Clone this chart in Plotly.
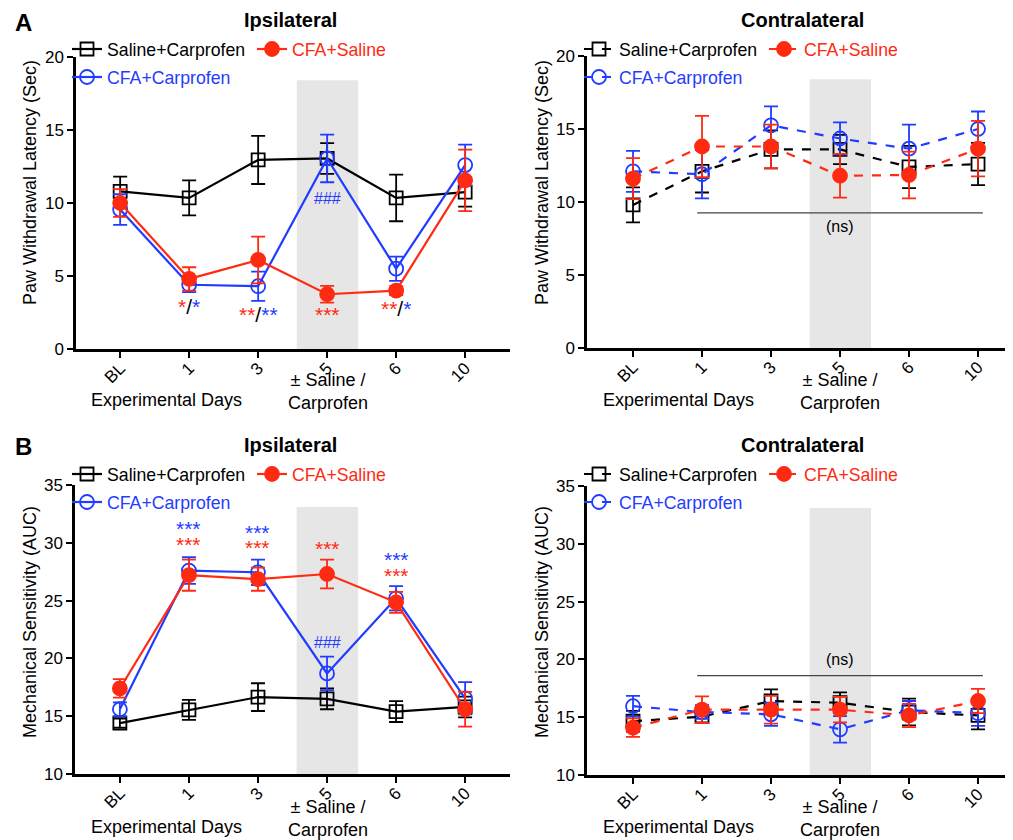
import plotly.graph_objects as go

# The page adds an 8px body margin; the figure is sized so it fits the 1013x840 window.
OFF = 8
W, H = 1013, 840
PW, PH = W - OFF, H - OFF
FONT = "Liberation Sans, Arial, sans-serif"
BLACK = "#000000"
RED = "#ff2a12"
BLUE = "#1f3cff"
BAND = "#e6e6e6"

days = ["BL", "1", "3", "5", "6", "10"]
series_names = ["Saline+Carprofen", "CFA+Saline", "CFA+Carprofen"]

# ---- Panel A, ipsilateral: paw withdrawal latency (s), mean and SEM ----
a_ipsi_sal_carp = [10.8, 10.35, 12.95, 13.05, 10.35, 10.75]
a_ipsi_sal_carp_err = [1.0, 1.2, 1.65, 1.05, 1.6, 1.0]
a_ipsi_cfa_sal = [10.0, 4.8, 6.1, 3.75, 4.0, 11.55]
a_ipsi_cfa_sal_err = [0.95, 0.8, 1.6, 0.57, 0.3, 2.1]
a_ipsi_cfa_carp = [9.55, 4.4, 4.3, 13.05, 5.5, 12.6]
a_ipsi_cfa_carp_err = [1.05, 0.5, 1.0, 1.63, 0.83, 1.4]

# ---- Panel A, contralateral ----
a_contra_sal_carp = [9.8, 12.1, 13.6, 13.6, 12.4, 12.6]
a_contra_sal_carp_err = [1.2, 1.45, 1.3, 1.0, 1.45, 1.45]
a_contra_cfa_sal = [11.6, 13.8, 13.8, 11.8, 11.85, 13.65]
a_contra_cfa_sal_err = [1.4, 2.1, 1.5, 1.5, 1.6, 1.9]
a_contra_cfa_carp = [12.1, 11.9, 15.25, 14.35, 13.65, 15.0]
a_contra_cfa_carp_err = [1.4, 1.65, 1.3, 1.1, 1.65, 1.2]

# ---- Panel B, ipsilateral: mechanical sensitivity (AUC) ----
b_ipsi_sal_carp = [14.4, 15.55, 16.65, 16.5, 15.4, 15.8]
b_ipsi_sal_carp_err = [0.4, 0.87, 1.2, 0.9, 0.9, 0.9]
b_ipsi_cfa_sal = [17.4, 27.2, 26.85, 27.3, 24.85, 15.6]
b_ipsi_cfa_sal_err = [0.8, 1.35, 1.0, 1.25, 0.9, 1.5]
b_ipsi_cfa_carp = [15.6, 27.6, 27.45, 18.7, 25.2, 16.55]
b_ipsi_cfa_carp_err = [0.6, 1.15, 1.1, 1.45, 1.05, 1.4]

# ---- Panel B, contralateral ----
b_contra_sal_carp = [14.65, 15.05, 16.4, 16.25, 15.45, 15.15]
b_contra_sal_carp_err = [0.9, 0.5, 1.0, 0.9, 1.15, 1.2]
b_contra_cfa_sal = [14.1, 15.65, 15.65, 15.65, 15.15, 16.4]
b_contra_cfa_sal_err = [0.8, 1.15, 1.2, 1.1, 1.0, 1.05]
b_contra_cfa_carp = [15.95, 15.45, 15.25, 13.95, 15.6, 15.35]
b_contra_cfa_carp_err = [0.9, 0.6, 1.0, 1.15, 0.8, 1.1]

# significance labels
sig_a_ipsi = [("1", 2.88, "*", "*"), ("3", 2.33, "**", "**"),
              ("5", 2.33, "***", ""), ("6", 2.8, "**", "*")]
sig_a_ipsi_hash = [("5", 10.3)]
sig_b_ipsi_red = [("1", 29.87), ("3", 29.6), ("5", 29.5), ("6", 27.2)]
sig_b_ipsi_blue = [("1", 31.2), ("3", 30.9), ("6", 28.57)]
sig_b_ipsi_hash = [("5", 21.4)]


def fx(p):
    return (p - OFF) / PW


def fy(p):
    return 1 - (p - OFF) / PH


def di(day):
    return days.index(day)


panels = [
    dict(ax="", xd=(76, 510), yd=(349, 57), xr=[-0.64, 5.65], yr=[0, 20], yt=[0, 5, 10, 15, 20],
         data=[(a_ipsi_sal_carp, a_ipsi_sal_carp_err), (a_ipsi_cfa_sal, a_ipsi_cfa_sal_err),
               (a_ipsi_cfa_carp, a_ipsi_cfa_carp_err)],
         dash="solid", ox=0, oy=0, cy=0, title="Ipsilateral", ytitle="Paw Withdrawal Latency (Sec)"),
    dict(ax="2", xd=(587, 1013), yd=(348, 56), xr=[-0.667, 5.507], yr=[0, 20], yt=[0, 5, 10, 15, 20],
         data=[(a_contra_sal_carp, a_contra_sal_carp_err), (a_contra_cfa_sal, a_contra_cfa_sal_err),
               (a_contra_cfa_carp, a_contra_cfa_carp_err)],
         dash="dash", ox=512, oy=0, cy=0, title="Contralateral", ytitle="Paw Withdrawal Latency (Sec)"),
    dict(ax="3", xd=(75, 510), yd=(774, 485), xr=[-0.65, 5.65], yr=[10, 35], yt=[10, 15, 20, 25, 30, 35],
         data=[(b_ipsi_sal_carp, b_ipsi_sal_carp_err), (b_ipsi_cfa_sal, b_ipsi_cfa_sal_err),
               (b_ipsi_cfa_carp, b_ipsi_cfa_carp_err)],
         dash="solid", ox=0, oy=425, cy=427, title="Ipsilateral", ytitle="Mechanical Sensitivity (AUC)"),
    dict(ax="4", xd=(587, 1013), yd=(775, 486), xr=[-0.667, 5.507], yr=[10, 35], yt=[10, 15, 20, 25, 30, 35],
         data=[(b_contra_sal_carp, b_contra_sal_carp_err), (b_contra_cfa_sal, b_contra_cfa_sal_err),
               (b_contra_cfa_carp, b_contra_cfa_carp_err)],
         dash="dash", ox=512, oy=425, cy=427, title="Contralateral", ytitle="Mechanical Sensitivity (AUC)"),
]

styles = [
    dict(color=BLACK, symbol="square-open", size=13),
    dict(color=RED, symbol="circle", size=14),
    dict(color=BLUE, symbol="circle-open", size=14),
]
legend_pos = [(87, 45), (272, 45), (87, 73)]
draw_order = [0, 2, 1]

fig = go.Figure()
layout = dict(
    width=PW, height=PH, autosize=False,
    margin=dict(l=0, r=0, t=0, b=0, pad=0, autoexpand=False),
    paper_bgcolor="white", plot_bgcolor="rgba(0,0,0,0)",
    font=dict(family=FONT, size=17, color="black"),
    showlegend=True,
)
shapes = []
annotations = []
leg_n = 0

for p in panels:
    xa = "x" + p["ax"]
    ya = "y" + p["ax"]
    layout["xaxis" + p["ax"]] = dict(
        domain=[fx(p["xd"][0]), min(1.0, fx(p["xd"][1]))], anchor=ya, type="category",
        categoryorder="array", categoryarray=days, range=p["xr"],
        showline=True, linecolor="black", linewidth=2.5, ticks="outside", ticklen=6,
        tickwidth=2, tickcolor="black", tickangle=-45, tickfont=dict(size=17),
        ticklabelstandoff=-6,
        showgrid=False, zeroline=False, automargin=False,
    )
    layout["yaxis" + p["ax"]] = dict(
        domain=[fy(p["yd"][0]), fy(p["yd"][1])], anchor=xa, range=p["yr"],
        tickvals=p["yt"], showline=True, linecolor="black", linewidth=2.5,
        ticks="outside", ticklen=6, tickwidth=2, tickcolor="black",
        tickfont=dict(size=17), showgrid=False, zeroline=False, automargin=False,
    )
    top_band = p["yr"][0] + (p["yr"][1] - p["yr"][0]) * (0.92 if p["yr"][0] == 0 else 0.924)
    shapes.append(dict(type="rect", xref=xa, yref=ya, x0=2.56, x1=3.45, y0=p["yr"][0], y1=top_band,
                       fillcolor=BAND, line=dict(width=0), layer="below"))

    for i in draw_order:
        vals, errs = p["data"][i]
        st = styles[i]
        leg_n += 1
        lname = "legend" if leg_n == 1 else "legend%d" % leg_n
        fig.add_trace(go.Scatter(
            x=days, y=vals, xaxis=xa, yaxis=ya, name=series_names[i], legend=lname,
            mode="lines+markers", cliponaxis=False,
            line=dict(color=st["color"], width=2.2, dash=p["dash"]),
            marker=dict(symbol=st["symbol"], size=st["size"], color=st["color"],
                        line=dict(color=st["color"], width=1.8)),
            error_y=dict(type="data", array=errs, color=st["color"], thickness=1.8, width=7),
        ))
        lx, ly = legend_pos[i]
        layout[lname] = dict(
            x=fx(lx + p["ox"] - 20), y=fy(ly + p["oy"] - 14), xanchor="left", yanchor="top",
            bgcolor="rgba(0,0,0,0)", borderwidth=0,
            font=dict(size=17.7, color=st["color"], family=FONT),
        )

    annotations.append(dict(text="<b>%s</b>" % p["title"], xref="paper", yref="paper",
                            x=fx(290 + p["ox"]), y=fy(20 + p["oy"]), showarrow=False,
                            font=dict(size=20), xanchor="center", yanchor="middle"))
    annotations.append(dict(text=p["ytitle"], xref="paper", yref="paper",
                            x=fx(30 + p["ox"]), y=fy((183 if p["oy"] == 0 else 197) + p["oy"]),
                            showarrow=False, textangle=-90, font=dict(size=18),
                            xanchor="center", yanchor="middle"))
    annotations.append(dict(text="Experimental Days", xref="paper", yref="paper",
                            x=fx(166 + p["ox"]), y=fy(400 + p["cy"]), showarrow=False,
                            font=dict(size=18), xanchor="center", yanchor="middle"))
    annotations.append(dict(text="± Saline /<br>Carprofen", xref="paper", yref="paper",
                            x=fx(328 + p["ox"]), y=fy(391 + p["cy"]), showarrow=False,
                            font=dict(size=18), xanchor="center", yanchor="middle"))

for letter, yy in [("A", 22), ("B", 446)]:
    annotations.append(dict(text="<b>%s</b>" % letter, xref="paper", yref="paper",
                            x=fx(24), y=fy(yy), showarrow=False, font=dict(size=24),
                            xanchor="center", yanchor="middle"))

for day, yv, rs, bs in sig_a_ipsi:
    if bs:
        txt = '<span style="color:%s">%s</span>/<span style="color:%s">%s</span>' % (RED, rs, BLUE, bs)
    else:
        txt = '<span style="color:%s">%s</span>' % (RED, rs)
    annotations.append(dict(text=txt, xref="x", yref="y", x=di(day), y=yv, showarrow=False,
                            font=dict(size=21), xanchor="center", yanchor="middle"))
for day, yv in sig_a_ipsi_hash:
    annotations.append(dict(text="###", xref="x", yref="y", x=di(day), y=yv, showarrow=False,
                            font=dict(size=16, color=BLUE), xanchor="center", yanchor="middle"))

for day, yv in sig_b_ipsi_red:
    annotations.append(dict(text="***", xref="x3", yref="y3", x=di(day), y=yv, showarrow=False,
                            font=dict(size=21, color=RED), xanchor="center", yanchor="middle"))
for day, yv in sig_b_ipsi_blue:
    annotations.append(dict(text="***", xref="x3", yref="y3", x=di(day), y=yv, showarrow=False,
                            font=dict(size=21, color=BLUE), xanchor="center", yanchor="middle"))
for day, yv in sig_b_ipsi_hash:
    annotations.append(dict(text="###", xref="x3", yref="y3", x=di(day), y=yv, showarrow=False,
                            font=dict(size=16, color=BLUE), xanchor="center", yanchor="middle"))

for xa, ya, ly, ty in [("x2", "y2", 9.25, 8.3), ("x4", "y4", 18.6, 20.0)]:
    shapes.append(dict(type="line", xref=xa, yref=ya, x0=0.93, x1=5.07, y0=ly, y1=ly,
                       line=dict(color="#444444", width=1.3)))
    annotations.append(dict(text="(ns)", xref=xa, yref=ya, x=di("5"), y=ty, showarrow=False,
                            font=dict(size=16), xanchor="center", yanchor="middle"))

layout["shapes"] = shapes
layout["annotations"] = annotations
fig.update_layout(**layout)
fig.write_html("out.html")
